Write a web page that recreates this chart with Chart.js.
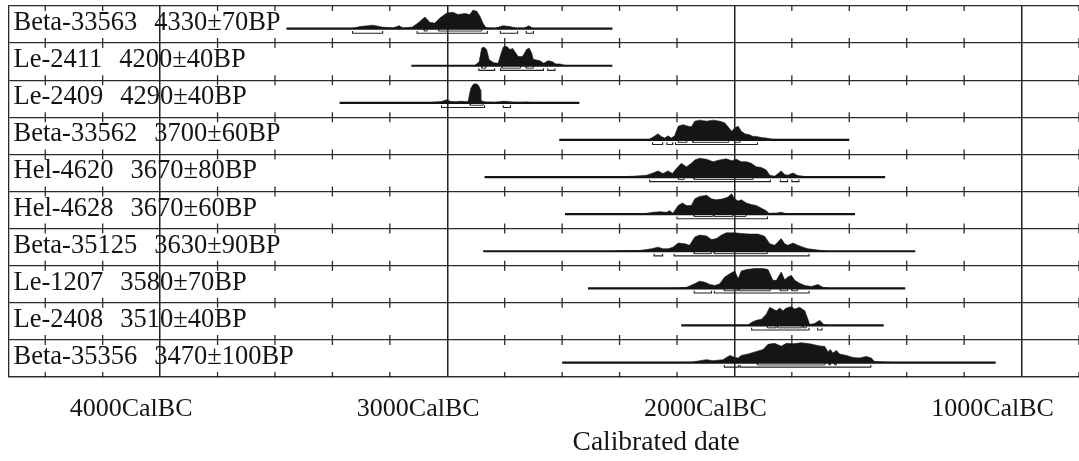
<!DOCTYPE html>
<html><head><meta charset="utf-8">
<script src="https://cdn.jsdelivr.net/npm/chart.js@4.4.0/dist/chart.umd.min.js"></script>
<style>html,body{margin:0;padding:0;background:#fff;overflow:hidden}canvas{display:block}</style>
</head><body>
<canvas id="c" width="1079" height="461"></canvas>
<script>
// ---- sample labels ----
const sampleIds = ['Beta-33563','Le-2411','Le-2409','Beta-33562','Hel-4620','Hel-4628','Beta-35125','Le-1207','Le-2408','Beta-35356'];
const bpDates = ['4330±70BP','4200±40BP','4290±40BP','3700±60BP','3670±80BP','3670±60BP','3630±90BP','3580±70BP','3510±40BP','3470±100BP'];
const axisTitle = 'Calibrated date';

// ---- full plotted range of each calibration (cal BC) ----
const rangeStart = [3560, 3125, 3375, 2610, 2870, 2590, 2875, 2510, 2185, 2600];
const rangeEnd   = [2425, 2425, 2540, 1600, 1475, 1580, 1370, 1405, 1480, 1090];

// ---- axis ticks (cal BC) ----
const majorTicks = [4000, 3000, 2000, 1000];
const minorTicks = [4400, 4200, 4000, 3800, 3600, 3400, 3200, 3000, 2800, 2600, 2400, 2200, 2000, 1800, 1600, 1400, 1200, 1000, 800];

// ---- probability distributions: years (cal BC) and relative probability (%) ----
const r1Years = [3335,3304,3259,3224,3189,3168,3154,3123,3102,3078,3060,3043,3026,3001,2980,2963,2939,2921,2911,2897,2886,2876,2865,2834,2806,2782,2761,2733,2716,2700];
const r1Prob  = [0,10,17,7,3,14,3,7,27,57,30,27,52,77,80,69,74,69,90,85,60,27,4,2,14,10,3,2,14,0];
const r2Years = [2905,2889,2880,2872,2863,2854,2838,2823,2814,2805,2793,2782,2772,2765,2753,2738,2724,2715,2706,2701,2677,2664,2649,2633,2622,2608,2585];
const r2Prob  = [0,20,87,92,79,29,15,12,54,92,95,79,85,70,45,45,79,87,62,32,24,12,25,19,9,9,0];
const r3Years = [3100,3060,3020,3002,2987,2970,2950,2935,2927,2923,2918,2911,2904,2897,2890,2885,2883,2876,2864,2834,2805,2788,2771,2747,2724,2700];
const r3Prob  = [0,2,6,15,6,5,8,5,8,40,70,88,94,92,83,65,15,6,4,2,8,6,3,2,4,0];
const r4Years = [2301,2283,2266,2255,2243,2231,2220,2208,2196,2179,2161,2150,2138,2121,2097,2074,2051,2034,2022,2010,1999,1987,1976,1964,1947,1935,1924,1906,1889,1871,1837];
const r4Prob  = [0,14,30,17,9,20,9,20,67,75,67,64,92,97,92,97,92,84,64,42,59,67,42,30,25,17,17,12,9,4,0];
const r5Years = [2400,2353,2306,2283,2266,2249,2231,2216,2202,2185,2167,2150,2138,2121,2097,2074,2051,2028,2010,1993,1976,1958,1941,1924,1906,1889,1877,1860,1837,1825,1814,1796,1779,1750,1703];
const r5Prob  = [0,4,9,20,30,17,30,17,42,67,50,67,84,92,87,75,84,89,80,87,75,75,67,50,47,34,9,4,30,12,9,20,7,2,0];
const r6Years = [2350,2306,2283,2260,2237,2225,2214,2196,2181,2167,2150,2138,2121,2097,2080,2063,2040,2022,2010,1999,1987,1976,1958,1941,1924,1906,1889,1880,1854,1837,1819,1750];
const r6Prob  = [0,4,9,12,9,17,4,42,54,42,42,75,87,92,75,70,75,84,100,75,64,70,54,47,42,29,17,4,5,9,2,0];
const r7Years = [2420,2399,2329,2289,2266,2249,2231,2214,2196,2173,2156,2138,2121,2097,2080,2063,2045,2028,1999,1976,1947,1918,1895,1877,1860,1837,1825,1814,1796,1779,1761,1744,1715,1692,1670];
const r7Prob  = [0,2,4,12,20,12,12,20,40,37,29,70,79,75,57,62,79,90,90,87,84,84,74,37,29,62,37,29,40,29,20,12,7,2,0];
const r8Years = [2230,2196,2167,2144,2121,2103,2086,2068,2051,2034,2016,1999,1987,1976,1958,1929,1900,1883,1866,1854,1837,1825,1814,1802,1790,1773,1755,1732,1709,1692,1668];
const r8Prob  = [0,2,5,19,35,30,19,14,22,55,72,85,47,85,92,97,97,92,39,39,80,42,55,64,39,25,14,9,19,5,0];
const r9Years = [1960,1952,1941,1924,1906,1889,1877,1866,1854,1842,1831,1819,1802,1790,1773,1755,1744,1738,1721,1703,1689,1674];
const r9Prob  = [0,2,14,25,30,55,89,80,72,85,72,85,92,80,89,72,30,5,9,25,5,0];
const r10Years = [2180,2144,2121,2097,2074,2040,2016,1999,1987,1976,1952,1929,1900,1883,1860,1837,1819,1796,1767,1738,1715,1697,1686,1674,1666,1657,1645,1634,1610,1587,1564,1541,1523,1512,1471,1436];
const r10Prob  = [0,2,9,14,9,14,35,25,22,35,42,52,64,89,94,80,94,92,97,92,85,80,80,52,64,47,59,42,35,25,22,30,22,5,2,0];

// ---- 68.2% (1 sigma) ranges, cal BC ----
const r1Sig1 = [[3080,3070],[3030,2880]];
const r2Sig1 = [[2880,2865],[2810,2745],[2725,2700]];
const r3Sig1 = [[2920,2875]];
const r4Sig1 = [[2195,2165],[2145,2020],[2000,1980]];
const r5Sig1 = [[2195,2175],[2140,1935]];
const r6Sig1 = [[2140,2075],[2070,2005],[2000,1960]];
const r7Sig1 = [[2140,2080],[2070,1885]];
const r8Sig1 = [[2035,1990],[1985,1875],[1840,1815],[1800,1780]];
const r9Sig1 = [[1885,1855],[1850,1765],[1760,1750]];
const r10Sig1 = [[1920,1685],[1670,1665],[1650,1645]];
// ---- 95.4% (2 sigma) ranges, cal BC ----
const r1Sig2 = [[3330,3225],[3105,2860],[2815,2755],[2725,2700]];
const r2Sig2 = [[2890,2835],[2815,2665],[2650,2625]];
const r3Sig2 = [[3020,2870],[2805,2780]];
const r4Sig2 = [[2285,2250],[2235,2215],[2205,1920]];
const r5Sig2 = [[2295,1875],[1840,1815],[1800,1775]];
const r6Sig2 = [[2200,1885]];
const r7Sig2 = [[2280,2250],[2210,1740]];
const r8Sig2 = [[2140,2080],[2070,1740]];
const r9Sig2 = [[1940,1740],[1710,1695]];
const r10Sig2 = [[2035,1985],[1980,1525]];

const rowYears = [r1Years,r2Years,r3Years,r4Years,r5Years,r6Years,r7Years,r8Years,r9Years,r10Years];
const rowProb  = [r1Prob,r2Prob,r3Prob,r4Prob,r5Prob,r6Prob,r7Prob,r8Prob,r9Prob,r10Prob];
const rowSig1  = [r1Sig1,r2Sig1,r3Sig1,r4Sig1,r5Sig1,r6Sig1,r7Sig1,r8Sig1,r9Sig1,r10Sig1];
const rowSig2  = [r1Sig2,r2Sig2,r3Sig2,r4Sig2,r5Sig2,r6Sig2,r7Sig2,r8Sig2,r9Sig2,r10Sig2];

// ---- styling constants (row-relative units) ----
const SERIF = "'Liberation Serif','Times New Roman',serif";
const INK = '#151515';
const BASE_OFF = 0.61;      // baseline position inside a row
const PROB_SCALE = 0.0055;  // row units per 1% probability
const S1 = 0.065, S2 = 0.125;
const boundaries = sampleIds.map((_, i) => i).concat([sampleIds.length]);

const datasets = [];
sampleIds.forEach((id, i) => {
  const base = i + BASE_OFF;
  datasets.push({
    data: rowYears[i].map((yr, k) => ({x: yr, y: base - rowProb[i][k] * PROB_SCALE})),
    fill: {value: base}, backgroundColor: INK, borderColor: INK, borderWidth: 0.6, pointRadius: 0, tension: 0
  });
  datasets.push({
    data: [{x: rangeStart[i], y: base}, {x: rangeEnd[i], y: base}],
    borderColor: INK, borderWidth: 2.2, pointRadius: 0, fill: false
  });
  const s1 = [];
  rowSig1[i].forEach(([a, b]) => { s1.push({x:a,y:base},{x:a,y:base+S1},{x:b,y:base+S1},{x:b,y:base},{x:b,y:null}); });
  datasets.push({data: s1, borderColor: '#333', borderWidth: 1, pointRadius: 0, fill: false, spanGaps: false});
  const s2 = [];
  rowSig2[i].forEach(([a, b]) => { s2.push({x:a,y:base+S1},{x:a,y:base+S2},{x:b,y:base+S2},{x:b,y:base+S1},{x:b,y:null}); });
  datasets.push({data: s2, borderColor: '#222', borderWidth: 1.1, pointRadius: 0, fill: false, spanGaps: false});
});

const overlay = {
  id: 'overlay',
  beforeDatasetsDraw(chart) {
    const {ctx, chartArea: a, scales: {x, y}} = chart;
    ctx.save();
    ctx.beginPath(); ctx.rect(a.left, a.top - 0.5, a.right - a.left, a.bottom - a.top + 1); ctx.clip();
    ctx.beginPath();
    ctx.strokeStyle = '#2a2a2a'; ctx.lineWidth = 1.3;
    boundaries.forEach(b => {
      const py = y.getPixelForValue(b);
      minorTicks.forEach(t => {
        if (majorTicks.includes(t)) return;
        const px = x.getPixelForValue(t);
        ctx.moveTo(px, py - 5); ctx.lineTo(px, py + 5);
      });
    });
    ctx.stroke();
    ctx.restore();
  },
  afterDatasetsDraw(chart) {
    const {ctx, chartArea: a, scales: {y}} = chart;
    ctx.save();
    ctx.font = '26.5px ' + SERIF;
    ctx.fillStyle = INK;
    ctx.textBaseline = 'alphabetic';
    sampleIds.forEach((id, i) => {
      const ty = y.getPixelForValue(i) + 24;
      const tx = a.left + 5;
      ctx.fillText(id, tx, ty);
      ctx.fillText(bpDates[i], tx + ctx.measureText(id).width + 17, ty);
    });
    // axis title (offset to the right, as in the source figure)
    ctx.font = '27.5px ' + SERIF;
    ctx.textAlign = 'center';
    ctx.textBaseline = 'middle';
    ctx.fillText(axisTitle, a.left + 0.605 * (a.right - a.left), chart.height - 18);
    ctx.restore();
  }
};

new Chart(document.getElementById('c'), {
  type: 'line',
  data: {datasets},
  options: {
    responsive: false, animation: false, events: [],
    layout: {padding: {left: 8.5, top: 6, right: 0, bottom: 0}},
    plugins: {legend: {display: false}, tooltip: {enabled: false}},
    scales: {
      x: {
        type: 'linear', reverse: true, min: 800, max: 4528,
        afterBuildTicks: ax => { ax.ticks = minorTicks.map(v => ({value: v})); },
        afterFit: ax => { ax.height = 84; ax.paddingLeft = 0; ax.paddingRight = 0; },
        ticks: {
          autoSkip: false, maxRotation: 0, padding: 17, labelOffset: -29,
          font: {family: SERIF, size: 26}, color: INK,
          callback: v => majorTicks.includes(v) ? v + 'CalBC' : ''
        },
        grid: {
          drawTicks: false, lineWidth: 1.5,
          color: c => (c.tick && majorTicks.includes(c.tick.value)) ? '#222' : 'rgba(0,0,0,0)'
        },
        border: {display: true, color: '#2a2a2a', width: 1.3},
        title: {display: false}
      },
      y: {
        type: 'linear', reverse: true, min: 0, max: sampleIds.length,
        afterBuildTicks: ax => { ax.ticks = boundaries.map(v => ({value: v})); },
        ticks: {display: false},
        grid: {drawTicks: false, color: '#2a2a2a', lineWidth: 1.3},
        border: {display: true, color: '#2a2a2a', width: 1.3}
      }
    }
  },
  plugins: [overlay]
});
</script>
</body></html>
